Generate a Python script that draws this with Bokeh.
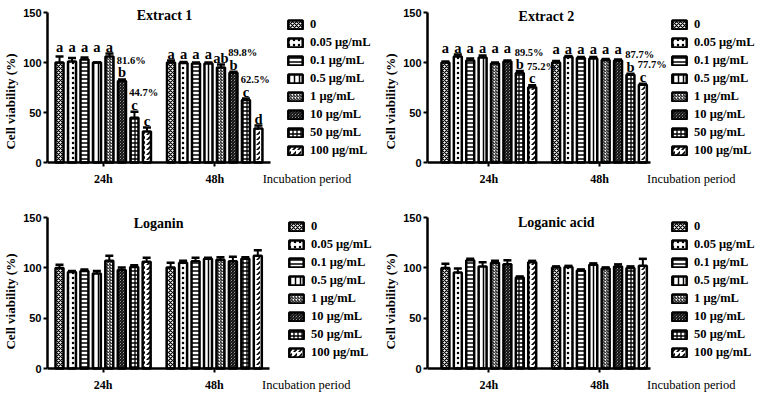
from bokeh.plotting import figure
from bokeh.models import (ColumnDataSource, Whisker, TeeHead, Legend, LegendItem,
                          FixedTicker, Range1d)
from bokeh.layouts import column, row
from bokeh.embed import file_html
from bokeh.resources import INLINE
from bokeh.core.properties import value

# ---------------- data ----------------
periods = ["24h", "48h"]
concentrations = ["0", "0.05 μg/mL", "0.1 μg/mL", "0.5 μg/mL",
                  "1 μg/mL", "10 μg/mL", "50 μg/mL", "100 μg/mL"]

ext1_24h = [100, 101, 103, 100, 106, 81.6, 44.7, 31]
ext1_24h_err = [6, 3.5, 2, 0, 3, 1.5, 6, 4]
ext1_48h = [100, 99.5, 99, 99, 95, 89.8, 62.5, 34]
ext1_48h_err = [2, 1, 1, 1, 3, 1, 1.5, 3]
ext1_24h_letters = ["a", "a", "a", "a", "a", "b", "c", "c"]
ext1_48h_letters = ["a", "a", "a", "a", "ab", "b", "c", "d"]
ext1_24h_pct = ["", "", "", "", "", "81.6%", "44.7%", ""]
ext1_48h_pct = ["", "", "", "", "", "89.8%", "62.5%", ""]

ext2_24h = [100, 106, 102, 105, 99, 101, 89.5, 75.2]
ext2_24h_err = [1, 2, 2, 2, 1, 1, 2, 2]
ext2_48h = [100, 105.5, 104.5, 104, 102.5, 102, 87.7, 77.7]
ext2_48h_err = [1.5, 1, 1, 1.5, 1, 1, 1, 1]
ext2_24h_letters = ["a", "a", "a", "a", "a", "a", "b", "c"]
ext2_48h_letters = ["a", "a", "a", "a", "a", "a", "b", "c"]
ext2_24h_pct = ["", "", "", "", "", "", "89.5%", "75.2%"]
ext2_48h_pct = ["", "", "", "", "", "", "87.7%", "77.7%"]

loganin_24h = [100, 96, 97, 94.5, 107, 98, 101, 106]
loganin_24h_err = [3, 1, 1.5, 2.5, 5, 2.5, 1.5, 4]
loganin_48h = [100.5, 105, 106.5, 109, 108, 106.5, 109, 112]
loganin_48h_err = [4.5, 2, 3.5, 1, 2.5, 4.5, 1.5, 5.5]

loganic_24h = [100, 95.5, 107.5, 101.5, 105, 103.5, 90.5, 105.5]
loganic_24h_err = [4, 4, 1.5, 4, 2, 4, 1, 1.5]
loganic_48h = [100.5, 101, 97.5, 103, 99.5, 101.5, 100, 102]
loganic_48h_err = [1, 1, 1, 1.5, 1, 2, 1.5, 7]

y_ticks = [0, 50, 100, 150]

# ---------------- style ----------------
SERIF = "Liberation Serif"
SANS = "Liberation Sans"
PATTERNS = ["x", ".", "-", "|", "/", "\\", "+", ","]
HSCALE = [4, 5, 4, 5, 3, 3, 4, 5]
HWEIGHT = [1.2, 3, 1.5, 1.5, 1, 1.2, 1.3, 1.6]
BAR_STEP = 0.112
BAR_W = 0.072


def bar_x(g, i):
    return g + 0.5 + (i - 3.5) * BAR_STEP


def make_panel(title, v24, e24, v48, e48, geom, l24=None, l48=None, p24=None, p48=None):
    p = figure(width=380, height=geom["height"], output_backend="svg", toolbar_location=None,
               x_range=Range1d(geom["x_start"], geom["x_end"]),
               y_range=Range1d(geom["y_start"], 160),
               min_border_left=geom["left"], min_border_right=0,
               min_border_top=geom["top"], min_border_bottom=0)
    p.outline_line_color = None
    p.grid.visible = False
    p.background_fill_color = "white"
    p.border_fill_color = "white"

    renderers = []
    for i, conc in enumerate(concentrations):
        src = ColumnDataSource(dict(x=[bar_x(0, i), bar_x(1, i)], top=[v24[i], v48[i]]))
        r = p.vbar(x="x", top="top", bottom=0, width=BAR_W, source=src,
                   fill_color="white", line_color="black", line_width=2.5,
                   hatch_pattern=PATTERNS[i], hatch_scale=HSCALE[i],
                   hatch_weight=HWEIGHT[i], hatch_color="black")
        renderers.append(r)

    xs = [bar_x(g, i) for g in (0, 1) for i in range(8)]
    tops = list(v24) + list(v48)
    errs = list(e24) + list(e48)
    wsrc = ColumnDataSource(dict(base=xs, lower=tops, upper=[t + e for t, e in zip(tops, errs)]))
    p.add_layout(Whisker(base="base", lower="lower", upper="upper", source=wsrc,
                         line_width=2, line_color="black", level="overlay",
                         upper_head=TeeHead(size=8, line_width=2.5, line_color="black"),
                         lower_head=None))

    # significance letters and percentages
    if l24 is not None:
        lx, ly, lt, px_, py, pt = [], [], [], [], [], []
        for g, (vals, errs_, lets, pcts) in enumerate([(v24, e24, l24, p24), (v48, e48, l48, p48)]):
            a_top = max(v + e for v, e, l in zip(vals, errs_, lets) if l == "a")
            for i in range(8):
                base = a_top if lets[i] == "a" else vals[i] + errs_[i]
                yy = base + 7
                lx.append(bar_x(g, i)); ly.append(yy); lt.append(lets[i])
                if pcts[i]:
                    px_.append(bar_x(g, i) - BAR_W / 2 - 0.01)
                    py.append(yy + 12)
                    pt.append(pcts[i])
        p.text(x=lx, y=ly, text=lt, text_align="center", text_baseline="alphabetic",
               text_font=value(SERIF), text_font_style="bold", text_font_size="14.5px",
               text_color="black")
        p.text(x=px_, y=py, text=pt, text_align="left", text_baseline="alphabetic",
               text_font=value(SERIF), text_font_style="bold", text_font_size="10.5px",
               text_color="black")

    # panel title
    p.text(x=[geom["title_x"]], y=[geom["title_y"]], text=[title], text_align="center",
           text_baseline="alphabetic", text_font=value(SERIF), text_font_style="bold",
           text_font_size="14px", text_color="black")

    # x axis caption to the right of the axis
    p.text(x=[geom["inc_x"]], y=[geom["inc_y"]], text=["Incubation period"],
           text_align="left", text_baseline="alphabetic", text_font=value(SERIF),
           text_font_size="12.5px", text_color="black")

    # axes
    p.xaxis.fixed_location = 0
    p.xaxis.ticker = FixedTicker(ticks=[0.5, 1.5])
    p.xaxis.major_label_overrides = {0.5: periods[0], 1.5: periods[1]}
    p.xaxis.bounds = (geom["x_start"], geom["axis_end"])
    p.yaxis.ticker = FixedTicker(ticks=y_ticks)
    p.yaxis.bounds = (0, 150)
    for ax in (p.xaxis[0], p.yaxis[0]):
        ax.axis_line_width = 2.5
        ax.axis_line_color = "black"
        ax.major_tick_line_width = 2
        ax.major_tick_line_color = "black"
        ax.major_tick_out = 4
        ax.major_tick_in = 0
        ax.minor_tick_line_color = None
    p.xaxis.major_label_text_font = SERIF
    p.xaxis.major_label_text_font_style = "bold"
    p.xaxis.major_label_text_font_size = "12px"
    p.xaxis.major_label_text_color = "black"
    p.xaxis.major_label_standoff = 5
    p.yaxis.major_label_text_font = SANS
    p.yaxis.major_label_text_font_style = "bold"
    p.yaxis.major_label_text_font_size = "11px"
    p.yaxis.major_label_text_color = "black"
    p.yaxis.major_label_standoff = 2
    p.yaxis.axis_label = "Cell viability (%)"
    p.yaxis.axis_label_text_font = SERIF
    p.yaxis.axis_label_text_font_style = "bold"
    p.yaxis.axis_label_text_font_size = "13px"
    p.yaxis.axis_label_text_color = "black"
    p.yaxis.axis_label_standoff = 2

    legend = Legend(items=[LegendItem(label=c, renderers=[r]) for c, r in zip(concentrations, renderers)],
                    location=geom["legend_loc"], orientation="vertical",
                    glyph_width=18, glyph_height=11, label_height=12, spacing=3,
                    label_standoff=6, padding=0, margin=0,
                    border_line_color=None, background_fill_alpha=0,
                    label_text_font=SERIF, label_text_font_style="bold",
                    label_text_font_size="12.5px", label_text_color="black")
    p.add_layout(legend)
    return p


geom_tl = dict(height=200, left=41, top=2, y_start=-38, x_start=0.0, x_end=2.987, axis_end=2.0,
               title_x=1.05, title_y=147, inc_x=1.93, inc_y=-16, legend_loc=(239, 42))
geom_tr = dict(height=200, left=43, top=2, y_start=-38, x_start=-0.054, x_end=2.955, axis_end=1.964,
               title_x=1.02, title_y=146, inc_x=1.93, inc_y=-16, legend_loc=(243, 42))
geom_bl = dict(height=195, left=40, top=7, y_start=-26.8, x_start=0.0, x_end=2.996, axis_end=2.0,
               title_x=1.0, title_y=144, inc_x=1.93, inc_y=-16, legend_loc=(240, 35))
geom_br = dict(height=195, left=43, top=7, y_start=-26.8, x_start=-0.054, x_end=2.955, axis_end=1.964,
               title_x=1.11, title_y=145, inc_x=1.93, inc_y=-16, legend_loc=(243, 35))

p1 = make_panel("Extract 1", ext1_24h, ext1_24h_err, ext1_48h, ext1_48h_err, geom_tl,
                ext1_24h_letters, ext1_48h_letters, ext1_24h_pct, ext1_48h_pct)
p2 = make_panel("Extract 2", ext2_24h, ext2_24h_err, ext2_48h, ext2_48h_err, geom_tr,
                ext2_24h_letters, ext2_48h_letters, ext2_24h_pct, ext2_48h_pct)
p3 = make_panel("Loganin", loganin_24h, loganin_24h_err, loganin_48h, loganin_48h_err, geom_bl)
p4 = make_panel("Loganic acid", loganic_24h, loganic_24h_err, loganic_48h, loganic_48h_err, geom_br)

layout = column(row(p1, p2), row(p3, p4))
open("out.html", "w").write(file_html(layout, INLINE))
